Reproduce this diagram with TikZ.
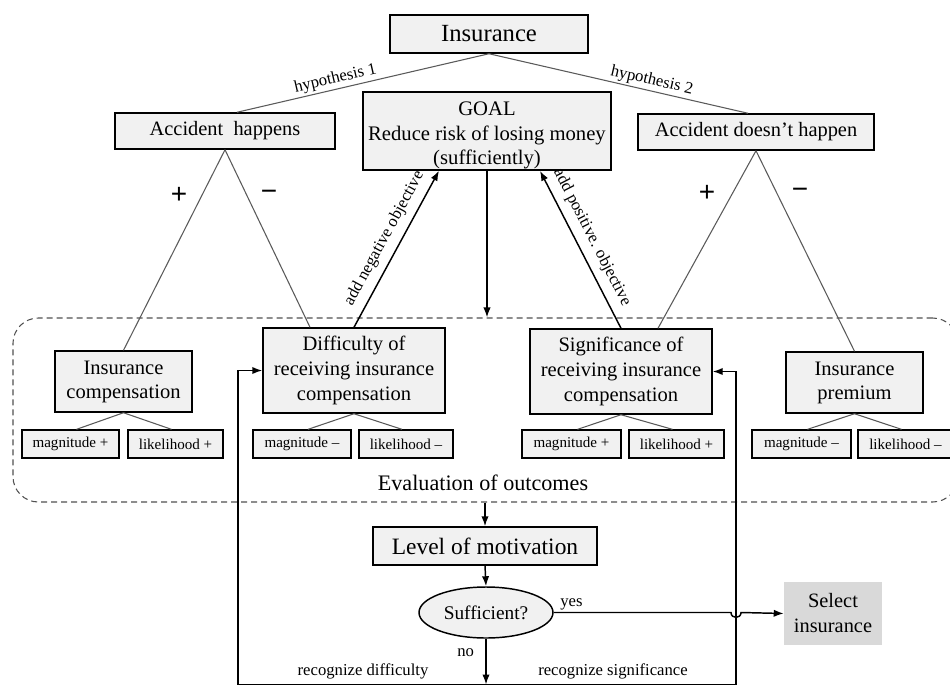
\documentclass[tikz,border=0pt]{standalone}
\usepackage{fontspec}
\setmainfont{Liberation Serif}
\newfontfamily\sansf{Liberation Sans}
\usetikzlibrary{arrows.meta,shapes.geometric}
\definecolor{boxfill}{HTML}{F1F1F1}
\definecolor{selfill}{HTML}{D9D9D9}
\definecolor{treegray}{HTML}{5A5A5A}
\definecolor{dashgray}{HTML}{505050}
\newcommand{\myfs}[2]{\fontsize{#1}{#2}\selectfont}
\begin{document}
\begin{tikzpicture}[x=0.75pt,y=-0.75pt,
  wh/.style 2 args={minimum width=#1*0.75pt,minimum height=#2*0.75pt},
  box/.style={draw=black,line width=1.1pt,fill=boxfill,inner sep=0pt,align=center},
  smallbox/.style={box,line width=1pt,font=\myfs{11.3}{13}},
  tree/.style={draw=treegray,line width=0.8pt},
  arr/.style={draw=black,line width=1.1pt,>={Latex[length=7.5pt,width=5.5pt]}},
  lbl/.style={font=\myfs{12.5}{14},inner sep=1.5pt},
  pm/.style={font=\sansf\myfs{21}{24},inner sep=0pt}]
\clip (0,0) rectangle (950,686);
% region
\node[draw=dashgray,dashed,dash pattern=on 4.5pt off 3pt,line width=0.8pt,rounded corners=19pt,wh={945}{184},inner sep=0pt] (eval) at (485.5,410) {};
\node[font=\myfs{16.6}{19}] (evaltxt) at (483,483) {Evaluation of outcomes};
% main nodes
\node[box,wh={198}{38},font=\myfs{18.5}{22}] (ins) at (489,34) {Insurance};
\node[box,wh={248}{78},font=\myfs{15.5}{18.5}] (goal) at (487,131) {\rule{0pt}{17pt}GOAL\\Reduce risk of losing money\\(sufficiently)};
\node[box,wh={220}{36},font=\myfs{15.3}{18}] (ah) at (225,131) {Accident~~happens};
\node[box,wh={236}{36},font=\myfs{15.3}{18}] (adh) at (756,132) {Accident doesn’t happen};
\node[box,wh={137}{61},font=\myfs{15.4}{18}] (ic) at (123.5,381.5) {Insurance\\compensation};
\node[box,wh={182}{85},font=\myfs{15.4}{18.6}] (diff) at (354,370.5) {Difficulty of\\receiving insurance\\compensation};
\node[box,wh={182}{85},font=\myfs{15.4}{18.6}] (sig) at (621,371.5) {Significance of\\receiving insurance\\compensation};
\node[box,wh={137}{61},font=\myfs{15.4}{18}] (ip) at (854.5,382.5) {Insurance\\premium};
% small boxes
\node[smallbox,wh={97}{28}] (m1) at (70.5,444) {magnitude +};
\node[smallbox,wh={95}{28}] (l1) at (175.5,444) {likelihood +};
\node[smallbox,wh={98}{28}] (m2) at (302,444) {magnitude –};
\node[smallbox,wh={94}{28}] (l2) at (406,444) {likelihood –};
\node[smallbox,wh={99}{28}] (m3) at (571.5,444) {magnitude +};
\node[smallbox,wh={95}{28}] (l3) at (676.5,444) {likelihood +};
\node[smallbox,wh={99}{28}] (m4) at (801.5,444) {magnitude –};
\node[smallbox,wh={95}{28}] (l4) at (905.5,444) {likelihood –};
% lower flow
\node[box,wh={224}{38},font=\myfs{17.6}{20}] (lom) at (485,546) {Level of motivation};
\node[box,ellipse,wh={134}{51},font=\myfs{14.5}{17}] (suf) at (486,612.5) {Sufficient?};
\node[fill=selfill,inner sep=0pt,align=center,wh={98}{63},font=\myfs{15.3}{18.75}] (sel) at (833,613.5) {Select\\insurance};
% plus/minus
\node[pm] (pa) at (179,195) {+};
\node[pm] (ma) at (269,195) {−};
\node[pm] (pb) at (707,193) {+};
\node[pm] (mb) at (800,193) {−};
% tree connectors
\draw[tree] ([xshift=9pt]ah.north) -- node[lbl,sloped,above,pos=0.4] {hypothesis 1} (ins.south);
\draw[tree] (ins.south) -- node[lbl,sloped,above,pos=0.62] {hypothesis 2} ([xshift=-6pt]adh.north);
\draw[tree] (ah.south) -- (ic.north);
\draw[tree] (ah.south) -- ([xshift=-33pt]diff.north);
\draw[tree] (adh.south) -- ([xshift=27.75pt]sig.north);
\draw[tree] (adh.south) -- (ip.north);
\draw[tree] (ic.south) -- ([xshift=4.5pt]m1.north);
\draw[tree] (ic.south) -- ([xshift=-3pt]l1.north);
\draw[tree] (diff.south) -- ([xshift=4.5pt]m2.north);
\draw[tree] (diff.south) -- ([xshift=-3pt]l2.north);
\draw[tree] (sig.south) -- ([xshift=4.5pt]m3.north);
\draw[tree] (sig.south) -- ([xshift=-3pt]l3.north);
\draw[tree] (ip.south) -- ([xshift=4.5pt]m4.north);
\draw[tree] (ip.south) -- ([xshift=-3pt]l4.north);
% arrows
\draw[arr,->] (diff.north) -- node[lbl,sloped,above=4pt,pos=0.52] {add negative objective} ([xshift=-36pt]goal.south);
\draw[arr,<-] ([xshift=39.75pt]goal.south) -- node[lbl,sloped,above=4pt,pos=0.47] {add positive. objective} (sig.north);
\draw[arr,->] (goal.south) -- (goal.south |- eval.north);
\draw[arr,->] (lom.north |- eval.south) -- (lom.north);
\draw[arr,->] (lom.south) -- (suf.north);
\coordinate (bm) at (486,684.5);
\coordinate (bl) at (238,684.5);
\coordinate (br) at (736,684.5);
\draw[arr,->] (suf.south) -- node[lbl,left=7pt,pos=0.3] {no} (bm);
\draw[arr] (bl) -- (br);
\draw[arr,->] (bl) |- (diff.west);
\draw[arr,->] (br) |- (sig.east);
\draw[arr,->] (suf.east) -- node[lbl,above,pos=0.1] {yes} (731,612.5) .. controls (731,619) and (741,619) .. (741,612.5) -- (sel.west);
\node[lbl] (rd) at (363,671) {recognize difficulty};
\node[lbl] (rs) at (613,671) {recognize significance};
\end{tikzpicture}
\end{document}
